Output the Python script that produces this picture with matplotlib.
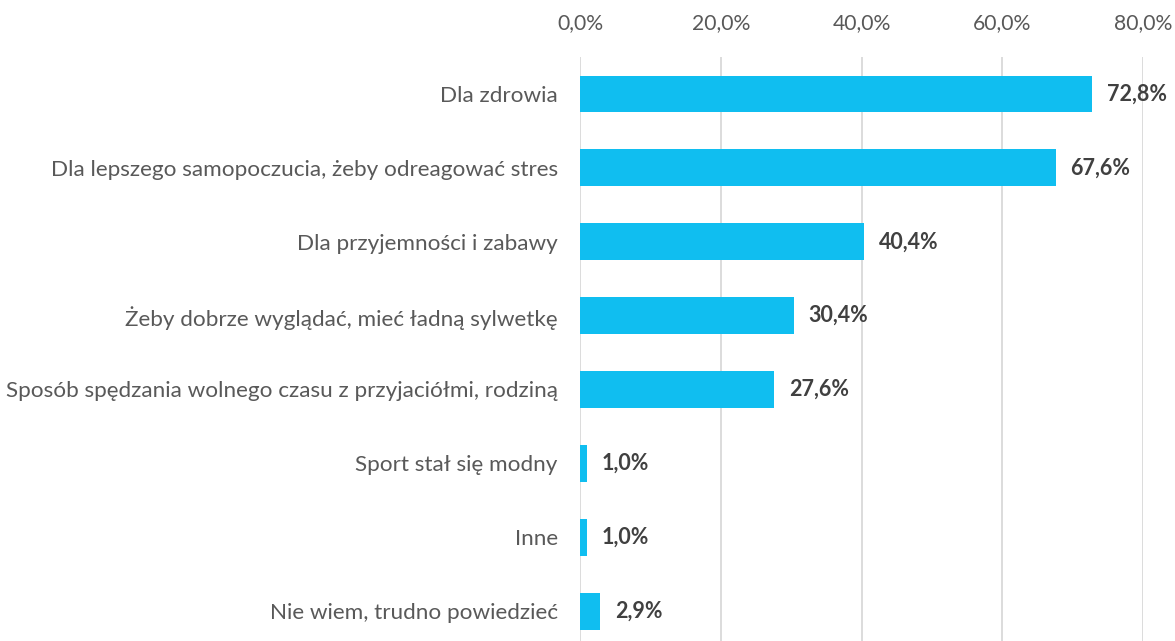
import numpy as np
import matplotlib.pyplot as plt
from matplotlib.ticker import FuncFormatter

categories = [
    'Dla zdrowia',
    'Dla lepszego samopoczucia, żeby odreagować stres',
    'Dla przyjemności i zabawy',
    'Żeby dobrze wyglądać, mieć ładną sylwetkę',
    'Sposób spędzania wolnego czasu z przyjaciółmi, rodziną',
    'Sport stał się modny',
    'Inne',
    'Nie wiem, trudno powiedzieć',
]
values = [72.8, 67.6, 40.4, 30.4, 27.6, 1.0, 1.0, 2.9]
ticks = [0, 20, 40, 60, 80]

plt.rcParams['font.family'] = ['Lato', 'DejaVu Sans']

fig = plt.figure(figsize=(11.75, 6.41), dpi=100)
ax = fig.add_axes([0.4936, -0.011, 0.4792, 0.922])

y = np.arange(len(categories))
ax.barh(y, values, height=0.5, color='#10BEF0', zorder=3)

for yi, v in zip(y, values):
    ax.text(v + 2.1, yi, f'{v:.1f}%'.replace('.', ','), va='center', ha='left',
            fontsize=15.5, fontweight='bold', color='#404040')

ax.set_xlim(0, 80)
ax.set_ylim(len(categories) - 0.5, -0.5)
ax.set_xticks(ticks)
ax.xaxis.set_major_formatter(FuncFormatter(lambda x, _: f'{x:.1f}%'.replace('.', ',')))
ax.xaxis.tick_top()
ax.tick_params(axis='x', length=0, pad=17, labelsize=15.2, labelcolor='#595959')
ax.set_yticks(y)
ax.set_yticklabels(categories)
ax.tick_params(axis='y', length=0, pad=16, labelsize=16.2, labelcolor='#595959')
ax.grid(axis='x', color='#D9D9D9', linewidth=1.3, zorder=0)
for s in ax.spines.values():
    s.set_visible(False)

fig.savefig('out.png', dpi=100)
